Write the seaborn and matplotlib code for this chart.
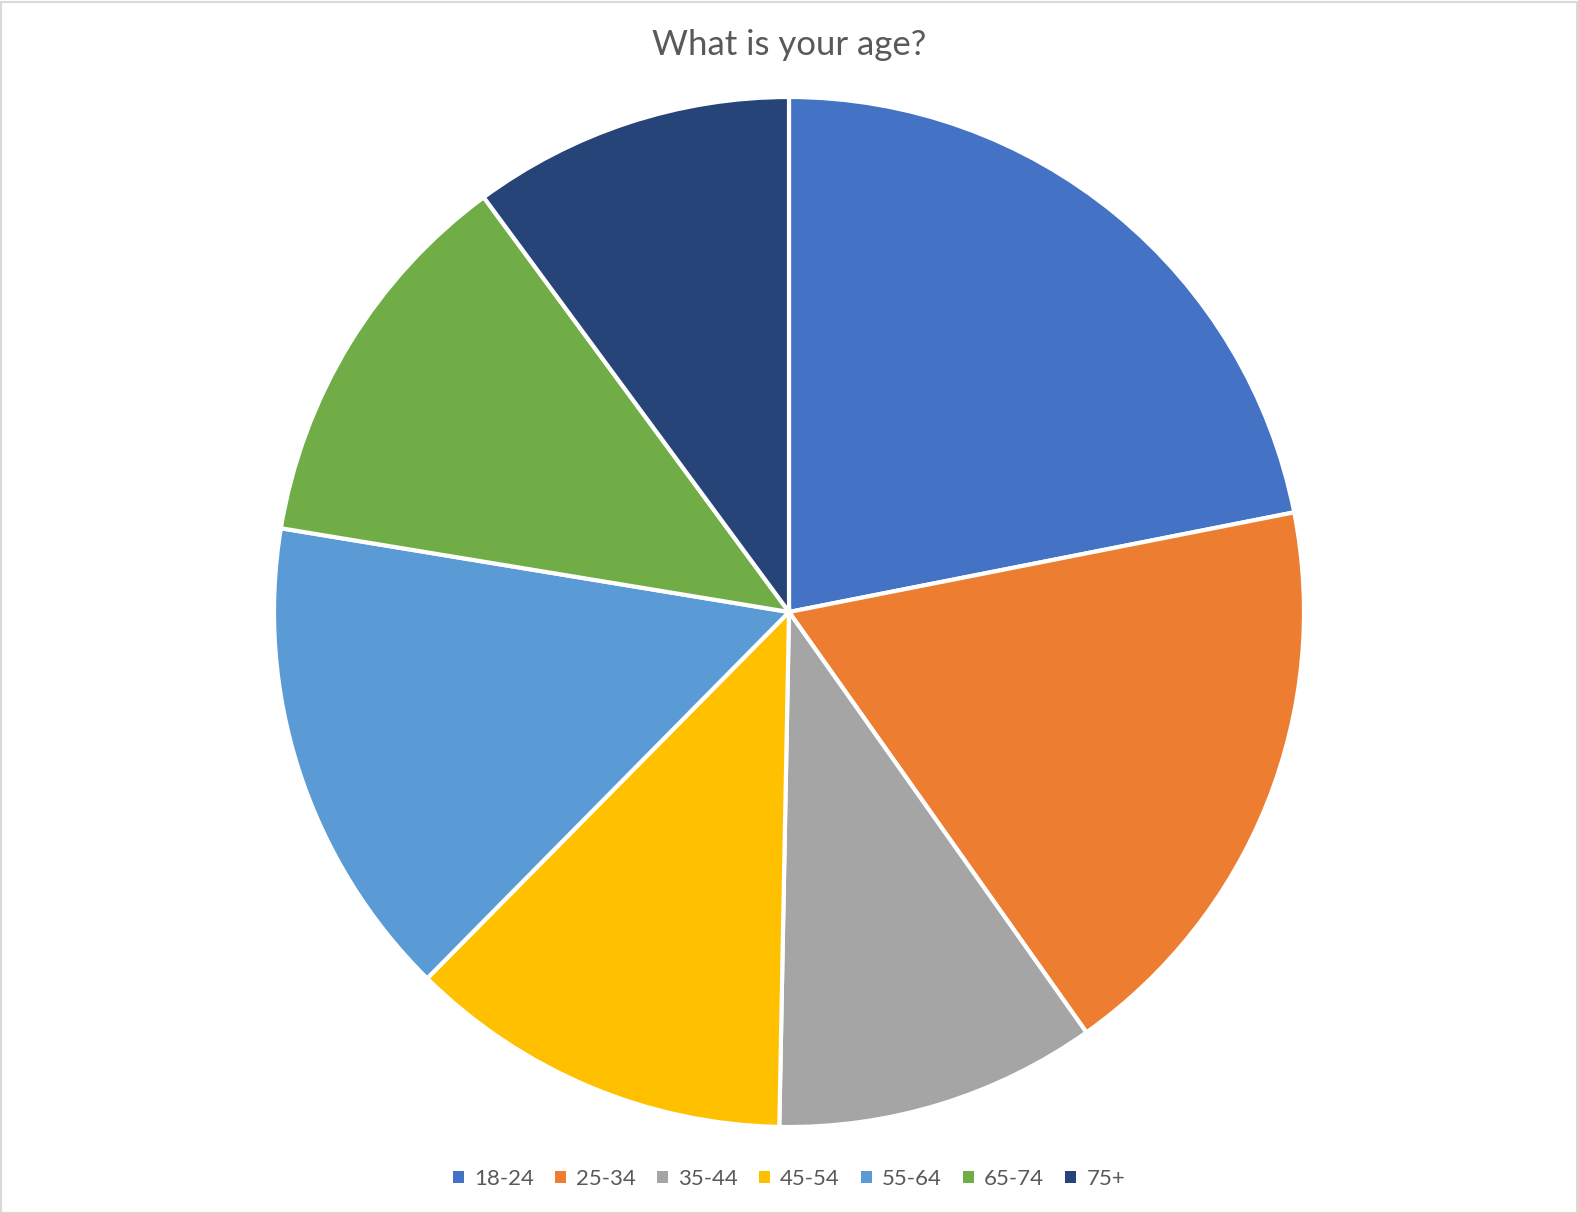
import matplotlib
matplotlib.use("Agg")
import matplotlib.pyplot as plt
import matplotlib.patches as mpatches
import seaborn as sns

# Survey responses by age group (share of respondents, %)
age_groups = ["18-24", "25-34", "35-44", "45-54", "55-64", "65-74", "75+"]
shares = [21.9, 18.3, 10.1, 12.1, 15.2, 12.3, 10.1]
slice_colors = ["#4472C4", "#ED7D31", "#A5A5A5", "#FFC000", "#5B9BD5", "#70AD47", "#264478"]

sns.set_theme(style="white")
plt.rcParams["font.family"] = ["Lato", "DejaVu Sans"]

W, H = 1578, 1213
fig = plt.figure(figsize=(W / 100, H / 100), dpi=100)
fig.patch.set_facecolor("white")

# Light frame around the chart area
frame = mpatches.Rectangle((0.5 / W, 0.5 / H), 1 - 2 / W, 1 - 2 / H, transform=fig.transFigure,
                           fill=False, edgecolor="#D9D9D9", linewidth=1.5)
fig.patches.append(frame)

cx, cy, r = 789, 612, 515
ax = fig.add_axes([(cx - r) / W, (H - cy - r) / H, 2 * r / W, 2 * r / H])
palette = sns.color_palette(slice_colors)
wedges, _ = ax.pie(shares, colors=palette, startangle=90, counterclock=False,
                   radius=1.0, wedgeprops=dict(edgecolor="white", linewidth=3))
ax.set_xlim(-1.0, 1.0)
ax.set_ylim(-1.0, 1.0)
ax.set_aspect("equal")
ax.axis("off")

fig.text(0.5, 1 - 45 / H, "What is your age?", ha="center", va="center",
         fontsize=25, color="#595959")

handles = [mpatches.Patch(facecolor=c, edgecolor="none") for c in palette]
fig.legend(handles, age_groups, loc="center", bbox_to_anchor=(0.5, 1 - 1179 / H),
           ncol=len(age_groups), frameon=False, fontsize=16, labelcolor="#595959",
           handlelength=0.5, handleheight=0.5, handletextpad=0.45, columnspacing=0.95)

fig.savefig("out.png", dpi=100, facecolor="white")
